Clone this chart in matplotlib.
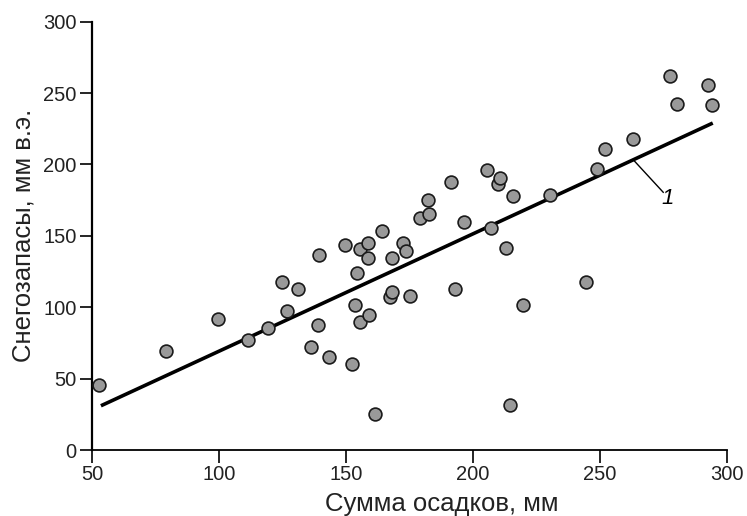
import matplotlib
matplotlib.use("Agg")
from matplotlib import pyplot as plt
import numpy as np

plt.rcParams['font.family'] = ['Liberation Sans', 'DejaVu Sans']

# сумма осадков, мм
precip = [52.8, 79.1, 99.7, 111.5, 119.4, 124.7, 126.9, 131.2, 136.2, 139.1,
          139.5, 143.4, 152.5, 153.7, 154.2, 155.5, 159.1, 161.5, 167.3, 168.2,
          175.3, 149.7, 155.6, 158.8, 158.8, 164.1, 168.1, 172.4, 173.6, 179.1,
          182.7, 182.4, 191.5, 196.5, 193.0, 205.6, 207.0, 209.8, 210.8, 215.6,
          213.1, 230.2, 219.8, 214.7, 244.4, 277.4, 292.6, 280.2, 294.1, 263.1,
          251.8, 248.9]
# снегозапасы, мм в.э.
swe = [45.5, 69.5, 92.0, 77.0, 85.2, 117.4, 97.1, 112.5, 72.3, 87.5,
       136.6, 64.9, 60.4, 101.3, 124.2, 89.4, 94.5, 25.0, 107.4, 110.6,
       108.0, 143.8, 140.5, 144.7, 134.2, 153.6, 134.2, 144.7, 139.4, 162.3,
       165.1, 174.9, 187.7, 159.7, 112.7, 195.9, 155.7, 186.3, 190.5, 178.1,
       141.2, 178.8, 101.5, 31.7, 117.4, 262.1, 255.8, 242.3, 241.8, 217.6,
       210.8, 196.6]

# линия регрессии 1
fit_slope = 0.822
fit_intercept = -13.0
fit_x = [53.5, 294.4]

fig = plt.figure(figsize=(7.47, 5.16), dpi=100)
ax = fig.add_axes([0.1232, 0.1279, 0.85, 0.8301])

line_x = np.array(fit_x)
line_y = fit_slope * line_x + fit_intercept
ax.plot(line_x, line_y, color="k", lw=2.6, solid_capstyle="butt", zorder=2)

ax.scatter(precip, swe, s=85, facecolor="#999999", edgecolor="#1a1a1a",
           linewidths=1.2, zorder=3)

# подпись линии
lx = 263.1
ax.plot([lx, 274.9], [fit_slope * lx + fit_intercept, 180.5], color="k", lw=1.0)
ax.text(276.8, 176.0, "1", fontsize=16, style="italic", ha="center", va="center")

ax.set_xlim(50, 300)
ax.set_ylim(0, 300)
ax.set_xticks([50, 100, 150, 200, 250, 300])
ax.set_yticks([0, 50, 100, 150, 200, 250, 300])
ax.spines["top"].set_visible(False)
ax.spines["right"].set_visible(False)
ax.spines["left"].set_linewidth(1.6)
ax.spines["bottom"].set_linewidth(1.3)
ax.tick_params(axis="both", direction="out", length=9, width=1.2,
               labelsize=14.5, colors="k", pad=2)
for lab in ax.get_xticklabels() + ax.get_yticklabels():
    lab.set_color("#222222")

ax.set_xlabel("Сумма осадков, мм", fontsize=18.5, color="#222222")
ax.set_ylabel("Снегозапасы, мм в.э.", fontsize=18.5, color="#222222")
ax.xaxis.set_label_coords(0.55, -0.098)
ax.yaxis.set_label_coords(-0.089, 0.5)

fig.savefig("out.png", dpi=100)
